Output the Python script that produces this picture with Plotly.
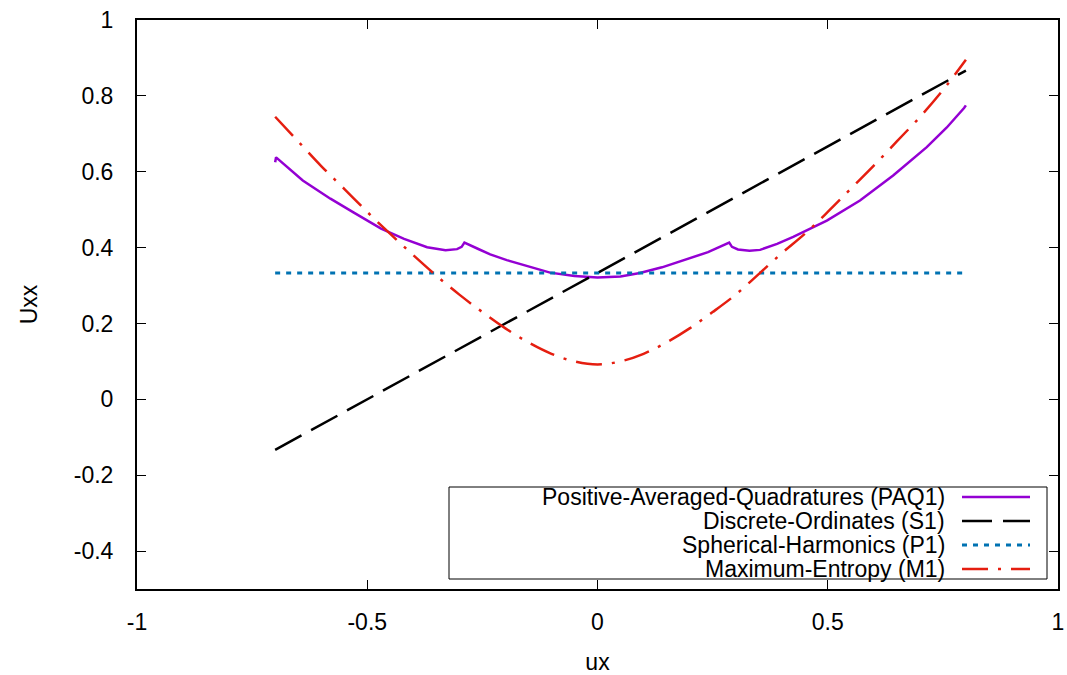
import plotly.graph_objects as go

# ---- data ----
series_names = [
    "Positive-Averaged-Quadratures (PAQ1)",
    "Discrete-Ordinates (S1)",
    "Spherical-Harmonics (P1)",
    "Maximum-Entropy (M1)",
]

paq1_ux = [-0.700, -0.698, -0.64, -0.58, -0.53, -0.47, -0.42, -0.37, -0.33, -0.305,
           -0.295, -0.289, -0.26, -0.233, -0.197, -0.15, -0.103, -0.05, 0.0, 0.05,
           0.092, 0.14, 0.186, 0.24, 0.286, 0.292, 0.305, 0.33, 0.353, 0.39,
           0.425, 0.46, 0.498, 0.57, 0.642, 0.715, 0.758, 0.796, 0.800]
paq1_uxx = [0.625, 0.638, 0.577, 0.529, 0.493, 0.450, 0.423, 0.401, 0.393, 0.396,
            0.402, 0.413, 0.397, 0.382, 0.367, 0.350, 0.334, 0.325, 0.321, 0.324,
            0.333, 0.348, 0.366, 0.388, 0.413, 0.402, 0.395, 0.392, 0.394, 0.410,
            0.428, 0.448, 0.471, 0.524, 0.590, 0.665, 0.716, 0.768, 0.775]

s1_ux = [-0.7, 0.8]
s1_uxx = [-0.1333, 0.8667]

p1_ux = [-0.7, 0.8]
p1_uxx = [0.3333, 0.3333]

m1_ux = [-0.7, -0.65, -0.6, -0.55, -0.5, -0.45, -0.4, -0.35, -0.3, -0.25, -0.2, -0.15,
         -0.1, -0.05, 0.0, 0.05, 0.1, 0.15, 0.2, 0.25, 0.3, 0.35, 0.4, 0.45, 0.5,
         0.55, 0.6, 0.65, 0.7, 0.75, 0.8]
m1_uxx = [0.745, 0.680, 0.615, 0.555, 0.494, 0.436, 0.380, 0.326, 0.276, 0.230, 0.187,
          0.150, 0.120, 0.100, 0.092, 0.100, 0.120, 0.150, 0.187, 0.230, 0.276, 0.330,
          0.385, 0.436, 0.494, 0.555, 0.616, 0.680, 0.744, 0.815, 0.895]

x_tickvals = [-1, -0.5, 0, 0.5, 1]
x_ticktext = ["-1", "-0.5", "0", "0.5", "1"]
y_tickvals = [-0.4, -0.2, 0, 0.2, 0.4, 0.6, 0.8, 1]
y_ticktext = ["-0.4", "-0.2", "0", "0.2", "0.4", "0.6", "0.8", "1"]

# ---- styles ----
colors = ["#9400D3", "#000000", "#0072B2", "#E51E10"]
dashes = ["solid", "30px,11px", "5px,6px", "26px,10px,3px,10px"]
widths = [2.5, 2.5, 3, 2.5]
shapes = ["linear", "linear", "linear", "spline"]
FONT = "Liberation Sans, Arial, sans-serif"
FS = 23

fig = go.Figure()
xs = [paq1_ux, s1_ux, p1_ux, m1_ux]
ys = [paq1_uxx, s1_uxx, p1_uxx, m1_uxx]
for name, x, y, c, d, w, sh in zip(series_names, xs, ys, colors, dashes, widths, shapes):
    fig.add_trace(go.Scatter(x=x, y=y, mode="lines", name=name,
                             line=dict(color=c, dash=d, width=w, shape=sh),
                             showlegend=False))

# ---- gnuplot-style legend box (text left, sample right) ----
L, R, T, B = 137, 1058, 20, 589
def px_x(p):
    return (p - L) / (R - L)
def px_y(p):
    return (B - p) / (B - T)

fig.add_shape(type="rect", xref="paper", yref="paper",
              x0=px_x(449), x1=px_x(1047), y0=px_y(579), y1=px_y(487),
              line=dict(color="black", width=1), fillcolor="white", layer="above")
row_y = [497, 521, 545, 569]
for name, c, d, w, ry in zip(series_names, colors, dashes, widths, row_y):
    fig.add_annotation(xref="paper", yref="paper", x=px_x(947), y=px_y(ry),
                       text=name, showarrow=False, xanchor="right", yanchor="middle",
                       font=dict(family=FONT, size=FS, color="black"))
    fig.add_shape(type="line", xref="paper", yref="paper",
                  x0=px_x(962), x1=px_x(1030), y0=px_y(ry), y1=px_y(ry),
                  line=dict(color=c, dash=d, width=w), layer="above")

axis_common = dict(showline=True, linecolor="black", linewidth=2, mirror="allticks",
                   ticks="inside", ticklen=9, tickwidth=1, tickcolor="black",
                   showgrid=False, zeroline=False, automargin=False,
                   tickfont=dict(family=FONT, size=FS, color="black"))

fig.update_layout(
    width=1067, height=675,
    margin=dict(l=L, r=1067 - R, t=T, b=675 - B, autoexpand=False),
    paper_bgcolor="white", plot_bgcolor="white",
    font=dict(family=FONT, size=FS, color="black"),
    xaxis=dict(range=[-1, 1], tickvals=x_tickvals, ticktext=x_ticktext,
               ticklabelstandoff=11,
               title=dict(text="ux", standoff=22, font=dict(family=FONT, size=FS)),
               **axis_common),
    yaxis=dict(range=[-0.5, 1], tickvals=y_tickvals, ticktext=y_ticktext,
               ticklabelstandoff=17,
               title=dict(text="Uxx", standoff=30, font=dict(family=FONT, size=FS)),
               **axis_common),
)

fig.write_html("out.html", config={"displayModeBar": False},
               post_script="document.body.style.margin='0';document.body.style.overflow='hidden';")
